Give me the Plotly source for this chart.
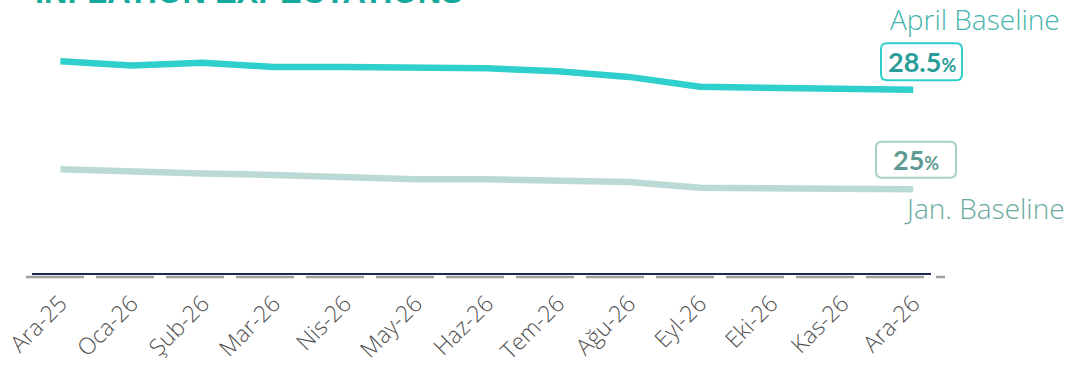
import plotly.graph_objects as go

months = ["Ara-25", "Oca-26", "Şub-26", "Mar-26", "Nis-26", "May-26", "Haz-26",
          "Tem-26", "Ağu-26", "Eyl-26", "Eki-26", "Kas-26", "Ara-26"]
april_baseline = [29.5, 29.35, 29.45, 29.3, 29.3, 29.3, 29.25, 29.15, 28.95, 28.6, 28.55, 28.5, 28.5]
jan_baseline = [25.7, 25.6, 25.55, 25.5, 25.4, 25.35, 25.35, 25.3, 25.25, 25.05, 25.05, 25.0, 25.0]

APRIL_COLOR = "#2ecfcc"
JAN_COLOR = "#bcdad5"
FONT = "Open Sans"

# plot area in pixels: x 32..931, y 30..273
W, H = 1076, 370
ML, MR, MT, MB = 32, 145, 30, 97
PW = W - ML - MR
PH = H - MT - MB


def px_x(px):
    # pixel x -> paper x
    return (px - ML) / PW


def px_y(py):
    # pixel y -> paper y
    return (H - MB - py) / PH


def rounded_box(half_w, y_lo, y_hi, r=6):
    # path in pixels relative to the anchor point, y upwards
    x0, x1 = -half_w, half_w
    return (f"M {x0 + r},{y_lo} L {x1 - r},{y_lo} Q {x1},{y_lo} {x1},{y_lo + r} "
            f"L {x1},{y_hi - r} Q {x1},{y_hi} {x1 - r},{y_hi} "
            f"L {x0 + r},{y_hi} Q {x0},{y_hi} {x0},{y_hi - r} "
            f"L {x0},{y_lo + r} Q {x0},{y_lo} {x0 + r},{y_lo} Z")


fig = go.Figure()

fig.add_trace(go.Scatter(x=months, y=jan_baseline, mode="lines",
                         line=dict(color=JAN_COLOR, width=6.5),
                         name="Jan. Baseline", showlegend=False))
fig.add_trace(go.Scatter(x=months, y=april_baseline, mode="lines",
                         line=dict(color=APRIL_COLOR, width=6.5),
                         name="April Baseline", showlegend=False))

shapes = [
    # gray dashed strip under the axis
    dict(type="line", xref="paper", yref="paper",
         x0=px_x(26), x1=px_x(945), y0=px_y(277), y1=px_y(277),
         line=dict(color="#a0a0a0", width=2.5, dash="58px,12px")),
    # value boxes
    dict(type="path", xref="paper", yref="y",
         xsizemode="pixel", ysizemode="pixel",
         xanchor=px_x(921.5), yanchor=april_baseline[-1],
         path=rounded_box(40.5, 9.5, 46.5),
         line=dict(color=APRIL_COLOR, width=2), fillcolor="white"),
    dict(type="path", xref="paper", yref="y",
         xsizemode="pixel", ysizemode="pixel",
         xanchor=px_x(916), yanchor=jan_baseline[-1],
         path=rounded_box(40, 11.5, 47.5),
         line=dict(color="#a9cfca", width=2), fillcolor="white"),
]

annotations = [
    dict(text="<b>INFLATION EXPECTATIONS</b>", xref="paper", yref="paper",
         x=px_x(33), y=px_y(12), xanchor="left", yanchor="bottom",
         showarrow=False, font=dict(family="Arial", size=32.5, color="#14a99a")),
    dict(text="April Baseline", xref="paper", yref="paper",
         x=px_x(975), y=px_y(19), xanchor="center", yanchor="middle",
         showarrow=False, font=dict(family=FONT, size=28, color="#45b5ad", weight=300)),
    dict(text="Jan. Baseline", xref="paper", yref="paper",
         x=px_x(984.5), y=px_y(208), xanchor="center", yanchor="middle",
         showarrow=False, font=dict(family=FONT, size=28, color="#6aa9a0", weight=300)),
    dict(text=f"<b>{april_baseline[-1]:g}</b><span style='font-size:18px'><b>%</b></span>",
         xref="paper", yref="y", x=px_x(921.5), y=april_baseline[-1], yshift=28,
         xanchor="center", yanchor="middle", showarrow=False,
         font=dict(family="Lato", size=27, color="#2a9d99")),
    dict(text=f"<b>{jan_baseline[-1]:g}</b><span style='font-size:18px'><b>%</b></span>",
         xref="paper", yref="y", x=px_x(916), y=jan_baseline[-1], yshift=29.5,
         xanchor="center", yanchor="middle", showarrow=False,
         font=dict(family="Lato", size=27, color="#5e9a92")),
]

fig.update_layout(
    width=W, height=H,
    margin=dict(l=ML, r=MR, t=MT, b=MB, autoexpand=False),
    paper_bgcolor="white", plot_bgcolor="white",
    showlegend=False,
    shapes=shapes,
    annotations=annotations,
    xaxis=dict(range=[-0.4, 12.25], showgrid=False, zeroline=False,
               showline=True, linecolor="#1b2a4a", linewidth=2,
               ticks="", tickangle=-45, ticklabelstandoff=6, automargin=False,
               tickfont=dict(family=FONT, size=23, color="#505050", weight=300)),
    yaxis=dict(range=[22.05, 30.6], showgrid=False, zeroline=False,
               showline=False, showticklabels=False, automargin=False),
)

# the page body has a default margin; drop it so the figure fills the window
fig.write_html("out.html", config={"displayModeBar": False},
               post_script="document.body.style.margin = '0px';")
